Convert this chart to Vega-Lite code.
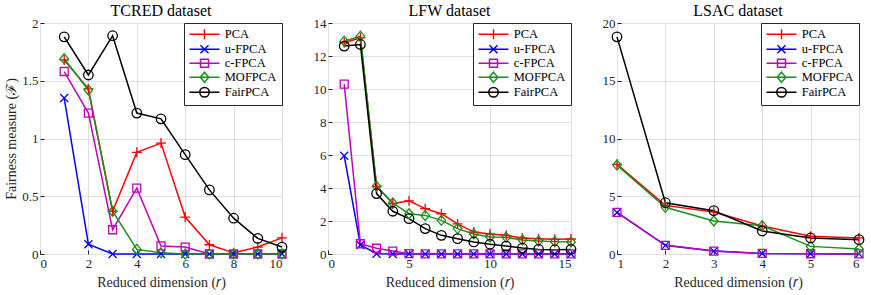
{
  "$schema": "https://vega.github.io/schema/vega-lite/v6.json",
  "padding": {"left": 4, "top": 2, "right": 8, "bottom": 2},
  "background": "white",
  "bounds": "flush",
  "spacing": 46,
  "config": {
    "font": "Liberation Serif",
    "view": {"stroke": "#262626", "strokeWidth": 1},
    "axis": {
      "labelFont": "Liberation Serif", "labelFontSize": 13, "labelColor": "#262626", "labelOverlap": false,
      "titleFont": "Liberation Serif", "titleFontSize": 14, "titleFontWeight": "normal", "titleColor": "#262626",
      "domain": false, "tickColor": "#262626", "tickSize": -4, "gridColor": "#dfdfdf", "gridWidth": 1, "tickCount": 20, "format": "~g"
    },
    "axisX": {"labelPadding": 7, "titlePadding": 5},
    "axisY": {"labelPadding": 6, "titlePadding": 3},
    "title": {"font": "Liberation Serif", "fontSize": 16, "fontWeight": "normal", "color": "black", "offset": -2, "frame": "group"},
    "legend": {
      "title": null, "orient": "top-right", "offset": 0, "padding": 5,
      "strokeColor": "#262626", "fillColor": "white", "cornerRadius": 0,
      "symbolSize": 100, "symbolStrokeWidth": 1.5, "symbolOffset": 9.25, "labelOffset": 14,
      "labelFont": "Liberation Serif", "labelFontSize": 12.5, "labelColor": "black", "rowPadding": -2
    }
  },
  "datasets": {
    "tcred": [
      {"r":1,"series":"PCA","F":1.68},{"r":2,"series":"PCA","F":1.43},{"r":3,"series":"PCA","F":0.37},{"r":4,"series":"PCA","F":0.88},{"r":5,"series":"PCA","F":0.96},{"r":6,"series":"PCA","F":0.32},{"r":7,"series":"PCA","F":0.08},{"r":8,"series":"PCA","F":0.01},{"r":9,"series":"PCA","F":0.06},{"r":10,"series":"PCA","F":0.14},
      {"r":1,"series":"u-FPCA","F":1.35},{"r":2,"series":"u-FPCA","F":0.085},{"r":3,"series":"u-FPCA","F":0.0},{"r":4,"series":"u-FPCA","F":0.0},{"r":5,"series":"u-FPCA","F":0.0},{"r":6,"series":"u-FPCA","F":0.0},{"r":7,"series":"u-FPCA","F":0.0},{"r":8,"series":"u-FPCA","F":0.0},{"r":9,"series":"u-FPCA","F":0.0},{"r":10,"series":"u-FPCA","F":0.0},
      {"r":1,"series":"c-FPCA","F":1.58},{"r":2,"series":"c-FPCA","F":1.22},{"r":3,"series":"c-FPCA","F":0.21},{"r":4,"series":"c-FPCA","F":0.57},{"r":5,"series":"c-FPCA","F":0.07},{"r":6,"series":"c-FPCA","F":0.06},{"r":7,"series":"c-FPCA","F":0.0},{"r":8,"series":"c-FPCA","F":0.0},{"r":9,"series":"c-FPCA","F":0.0},{"r":10,"series":"c-FPCA","F":0.0},
      {"r":1,"series":"MOFPCA","F":1.69},{"r":2,"series":"MOFPCA","F":1.42},{"r":3,"series":"MOFPCA","F":0.37},{"r":4,"series":"MOFPCA","F":0.04},{"r":5,"series":"MOFPCA","F":0.01},{"r":6,"series":"MOFPCA","F":0.0},{"r":7,"series":"MOFPCA","F":0.0},{"r":8,"series":"MOFPCA","F":0.0},{"r":9,"series":"MOFPCA","F":0.0},{"r":10,"series":"MOFPCA","F":0.0},
      {"r":1,"series":"FairPCA","F":1.88},{"r":2,"series":"FairPCA","F":1.55},{"r":3,"series":"FairPCA","F":1.89},{"r":4,"series":"FairPCA","F":1.22},{"r":5,"series":"FairPCA","F":1.17},{"r":6,"series":"FairPCA","F":0.86},{"r":7,"series":"FairPCA","F":0.555},{"r":8,"series":"FairPCA","F":0.31},{"r":9,"series":"FairPCA","F":0.135},{"r":10,"series":"FairPCA","F":0.06}
    ],
    "lfw": [
      {"r":1,"series":"PCA","F":12.8},{"r":2,"series":"PCA","F":13.1},{"r":3,"series":"PCA","F":4.1},{"r":4,"series":"PCA","F":3.05},{"r":5,"series":"PCA","F":3.22},{"r":6,"series":"PCA","F":2.75},{"r":7,"series":"PCA","F":2.44},{"r":8,"series":"PCA","F":1.82},{"r":9,"series":"PCA","F":1.33},{"r":10,"series":"PCA","F":1.21},{"r":11,"series":"PCA","F":1.13},{"r":12,"series":"PCA","F":0.97},{"r":13,"series":"PCA","F":0.93},{"r":14,"series":"PCA","F":0.89},{"r":15,"series":"PCA","F":0.91},
      {"r":1,"series":"u-FPCA","F":5.95},{"r":2,"series":"u-FPCA","F":0.55},{"r":3,"series":"u-FPCA","F":0.02},{"r":4,"series":"u-FPCA","F":0.0},{"r":5,"series":"u-FPCA","F":0.0},{"r":6,"series":"u-FPCA","F":0.0},{"r":7,"series":"u-FPCA","F":0.0},{"r":8,"series":"u-FPCA","F":0.0},{"r":9,"series":"u-FPCA","F":0.0},{"r":10,"series":"u-FPCA","F":0.0},{"r":11,"series":"u-FPCA","F":0.0},{"r":12,"series":"u-FPCA","F":0.0},{"r":13,"series":"u-FPCA","F":0.0},{"r":14,"series":"u-FPCA","F":0.0},{"r":15,"series":"u-FPCA","F":0.0},
      {"r":1,"series":"c-FPCA","F":10.3},{"r":2,"series":"c-FPCA","F":0.62},{"r":3,"series":"c-FPCA","F":0.35},{"r":4,"series":"c-FPCA","F":0.18},{"r":5,"series":"c-FPCA","F":0.02},{"r":6,"series":"c-FPCA","F":0.01},{"r":7,"series":"c-FPCA","F":0.01},{"r":8,"series":"c-FPCA","F":0.01},{"r":9,"series":"c-FPCA","F":0.01},{"r":10,"series":"c-FPCA","F":0.01},{"r":11,"series":"c-FPCA","F":0.01},{"r":12,"series":"c-FPCA","F":0.01},{"r":13,"series":"c-FPCA","F":0.01},{"r":14,"series":"c-FPCA","F":0.01},{"r":15,"series":"c-FPCA","F":0.01},
      {"r":1,"series":"MOFPCA","F":12.9},{"r":2,"series":"MOFPCA","F":13.2},{"r":3,"series":"MOFPCA","F":4.1},{"r":4,"series":"MOFPCA","F":3.09},{"r":5,"series":"MOFPCA","F":2.44},{"r":6,"series":"MOFPCA","F":2.34},{"r":7,"series":"MOFPCA","F":2.04},{"r":8,"series":"MOFPCA","F":1.54},{"r":9,"series":"MOFPCA","F":1.21},{"r":10,"series":"MOFPCA","F":1.03},{"r":11,"series":"MOFPCA","F":1.01},{"r":12,"series":"MOFPCA","F":0.85},{"r":13,"series":"MOFPCA","F":0.79},{"r":14,"series":"MOFPCA","F":0.75},{"r":15,"series":"MOFPCA","F":0.73},
      {"r":1,"series":"FairPCA","F":12.6},{"r":2,"series":"FairPCA","F":12.7},{"r":3,"series":"FairPCA","F":3.66},{"r":4,"series":"FairPCA","F":2.59},{"r":5,"series":"FairPCA","F":2.14},{"r":6,"series":"FairPCA","F":1.54},{"r":7,"series":"FairPCA","F":1.13},{"r":8,"series":"FairPCA","F":0.93},{"r":9,"series":"FairPCA","F":0.73},{"r":10,"series":"FairPCA","F":0.59},{"r":11,"series":"FairPCA","F":0.48},{"r":12,"series":"FairPCA","F":0.36},{"r":13,"series":"FairPCA","F":0.28},{"r":14,"series":"FairPCA","F":0.26},{"r":15,"series":"FairPCA","F":0.28}
    ],
    "lsac": [
      {"r":1,"series":"PCA","F":7.76},{"r":2,"series":"PCA","F":4.21},{"r":3,"series":"PCA","F":3.64},{"r":4,"series":"PCA","F":2.42},{"r":5,"series":"PCA","F":1.53},{"r":6,"series":"PCA","F":1.39},
      {"r":1,"series":"u-FPCA","F":3.6},{"r":2,"series":"u-FPCA","F":0.75},{"r":3,"series":"u-FPCA","F":0.25},{"r":4,"series":"u-FPCA","F":0.05},{"r":5,"series":"u-FPCA","F":0.02},{"r":6,"series":"u-FPCA","F":0.01},
      {"r":1,"series":"c-FPCA","F":3.6},{"r":2,"series":"c-FPCA","F":0.75},{"r":3,"series":"c-FPCA","F":0.25},{"r":4,"series":"c-FPCA","F":0.05},{"r":5,"series":"c-FPCA","F":0.02},{"r":6,"series":"c-FPCA","F":0.01},
      {"r":1,"series":"MOFPCA","F":7.7},{"r":2,"series":"MOFPCA","F":4.04},{"r":3,"series":"MOFPCA","F":2.86},{"r":4,"series":"MOFPCA","F":2.45},{"r":5,"series":"MOFPCA","F":0.66},{"r":6,"series":"MOFPCA","F":0.43},
      {"r":1,"series":"FairPCA","F":18.8},{"r":2,"series":"FairPCA","F":4.44},{"r":3,"series":"FairPCA","F":3.75},{"r":4,"series":"FairPCA","F":1.99},{"r":5,"series":"FairPCA","F":1.39},{"r":6,"series":"FairPCA","F":1.24}
    ]
  },
  "hconcat": [
    {
      "width": 242, "height": 231,
      "title": "TCRED dataset",
      "data": {"name": "tcred"},
      "resolve": {"scale": {"color": "independent", "shape": "independent"}},
      "layer": [
        {
          "mark": {"type": "line", "strokeWidth": 1.5},
          "encoding": {
            "x": {"field": "r", "type": "quantitative", "scale": {"domain": [0, 10], "nice": false}, "axis": {"values": [0,2,4,6,8,10], "tickCount": 20, "format": "~g", "title": "Reduced dimension (𝑟)"}},
            "y": {"field": "F", "type": "quantitative", "scale": {"domain": [0, 2], "nice": false}, "axis": {"values": [0,0.5,1,1.5,2], "tickCount": 20, "format": "~g", "title": "Fairness measure (ℱ)"}},
            "color": {"field": "series", "type": "nominal", "scale": {"domain": ["PCA","u-FPCA","c-FPCA","MOFPCA","FairPCA"], "range": ["#ff0000","#0000ff","#bf00bf","#1b8f1b","#000000"]}, "legend": null}
          }
        },
        {
          "mark": {"type": "point", "filled": false, "opacity": 1, "size": 100, "strokeWidth": 1.3},
          "encoding": {
            "x": {"field": "r", "type": "quantitative"},
            "y": {"field": "F", "type": "quantitative"},
            "color": {"field": "series", "type": "nominal", "scale": {"domain": ["PCA","u-FPCA","c-FPCA","MOFPCA","FairPCA"], "range": ["#ff0000","#0000ff","#bf00bf","#1b8f1b","#000000"]}, "legend": null},
            "shape": {"field": "series", "type": "nominal", "scale": {"domain": ["PCA","u-FPCA","c-FPCA","MOFPCA","FairPCA"], "range": ["M-1,0H1M0,-1V1","M-0.8,-0.8L0.8,0.8M-0.8,0.8L0.8,-0.8","M-0.8,-0.8H0.8V0.8H-0.8Z","M0,-1L0.85,0L0,1L-0.85,0Z","M0.95,0A0.95,0.95,0,1,1,-0.95,0A0.95,0.95,0,1,1,0.95,0"]}, "legend": null}
          }
        },
        {
          "transform": [{"filter": "datum.r < 0"}],
          "mark": {"type": "point", "filled": false, "opacity": 1, "strokeWidth": 1.5},
          "encoding": {
            "x": {"field": "r", "type": "quantitative"},
            "y": {"field": "F", "type": "quantitative"},
            "color": {"field": "series", "type": "nominal", "scale": {"domain": ["PCA","u-FPCA","c-FPCA","MOFPCA","FairPCA"], "range": ["#ff0000","#0000ff","#bf00bf","#1b8f1b","#000000"]}, "legend": {"title": null}},
            "shape": {"field": "series", "type": "nominal", "scale": {"domain": ["PCA","u-FPCA","c-FPCA","MOFPCA","FairPCA"], "range": ["M-3,0H3M0,-1V1","M-3,0H3M-0.8,-0.8L0.8,0.8M-0.8,0.8L0.8,-0.8","M-3,0H3M-0.8,-0.8H0.8V0.8H-0.8Z","M-3,0H3M0,-1L0.85,0L0,1L-0.85,0Z","M-3,0H3M0.95,0A0.95,0.95,0,1,1,-0.95,0A0.95,0.95,0,1,1,0.95,0"]}, "legend": {"title": null}}
          }
        }
      ]
    },
    {
      "width": 243, "height": 231,
      "title": "LFW dataset",
      "data": {"name": "lfw"},
      "resolve": {"scale": {"color": "independent", "shape": "independent"}},
      "layer": [
        {
          "mark": {"type": "line", "strokeWidth": 1.5},
          "encoding": {
            "x": {"field": "r", "type": "quantitative", "scale": {"domain": [0, 15], "nice": false}, "axis": {"values": [0,5,10,15], "tickCount": 20, "format": "~g", "title": "Reduced dimension (𝑟)"}},
            "y": {"field": "F", "type": "quantitative", "scale": {"domain": [0, 14], "nice": false}, "axis": {"values": [0,2,4,6,8,10,12,14], "tickCount": 20, "format": "~g", "title": null}},
            "color": {"field": "series", "type": "nominal", "scale": {"domain": ["PCA","u-FPCA","c-FPCA","MOFPCA","FairPCA"], "range": ["#ff0000","#0000ff","#bf00bf","#1b8f1b","#000000"]}, "legend": null}
          }
        },
        {
          "mark": {"type": "point", "filled": false, "opacity": 1, "size": 100, "strokeWidth": 1.3},
          "encoding": {
            "x": {"field": "r", "type": "quantitative"},
            "y": {"field": "F", "type": "quantitative"},
            "color": {"field": "series", "type": "nominal", "scale": {"domain": ["PCA","u-FPCA","c-FPCA","MOFPCA","FairPCA"], "range": ["#ff0000","#0000ff","#bf00bf","#1b8f1b","#000000"]}, "legend": null},
            "shape": {"field": "series", "type": "nominal", "scale": {"domain": ["PCA","u-FPCA","c-FPCA","MOFPCA","FairPCA"], "range": ["M-1,0H1M0,-1V1","M-0.8,-0.8L0.8,0.8M-0.8,0.8L0.8,-0.8","M-0.8,-0.8H0.8V0.8H-0.8Z","M0,-1L0.85,0L0,1L-0.85,0Z","M0.95,0A0.95,0.95,0,1,1,-0.95,0A0.95,0.95,0,1,1,0.95,0"]}, "legend": null}
          }
        },
        {
          "transform": [{"filter": "datum.r < 0"}],
          "mark": {"type": "point", "filled": false, "opacity": 1, "strokeWidth": 1.5},
          "encoding": {
            "x": {"field": "r", "type": "quantitative"},
            "y": {"field": "F", "type": "quantitative"},
            "color": {"field": "series", "type": "nominal", "scale": {"domain": ["PCA","u-FPCA","c-FPCA","MOFPCA","FairPCA"], "range": ["#ff0000","#0000ff","#bf00bf","#1b8f1b","#000000"]}, "legend": {"title": null}},
            "shape": {"field": "series", "type": "nominal", "scale": {"domain": ["PCA","u-FPCA","c-FPCA","MOFPCA","FairPCA"], "range": ["M-3,0H3M0,-1V1","M-3,0H3M-0.8,-0.8L0.8,0.8M-0.8,0.8L0.8,-0.8","M-3,0H3M-0.8,-0.8H0.8V0.8H-0.8Z","M-3,0H3M0,-1L0.85,0L0,1L-0.85,0Z","M-3,0H3M0.95,0A0.95,0.95,0,1,1,-0.95,0A0.95,0.95,0,1,1,0.95,0"]}, "legend": {"title": null}}
          }
        }
      ]
    },
    {
      "width": 242, "height": 231,
      "title": "LSAC dataset",
      "data": {"name": "lsac"},
      "resolve": {"scale": {"color": "independent", "shape": "independent"}},
      "layer": [
        {
          "mark": {"type": "line", "strokeWidth": 1.5},
          "encoding": {
            "x": {"field": "r", "type": "quantitative", "scale": {"domain": [1, 6], "nice": false}, "axis": {"values": [1,2,3,4,5,6], "tickCount": 20, "format": "~g", "title": "Reduced dimension (𝑟)"}},
            "y": {"field": "F", "type": "quantitative", "scale": {"domain": [0, 20], "nice": false}, "axis": {"values": [0,5,10,15,20], "tickCount": 20, "format": "~g", "title": null}},
            "color": {"field": "series", "type": "nominal", "scale": {"domain": ["PCA","u-FPCA","c-FPCA","MOFPCA","FairPCA"], "range": ["#ff0000","#0000ff","#bf00bf","#1b8f1b","#000000"]}, "legend": null}
          }
        },
        {
          "mark": {"type": "point", "filled": false, "opacity": 1, "size": 100, "strokeWidth": 1.3},
          "encoding": {
            "x": {"field": "r", "type": "quantitative"},
            "y": {"field": "F", "type": "quantitative"},
            "color": {"field": "series", "type": "nominal", "scale": {"domain": ["PCA","u-FPCA","c-FPCA","MOFPCA","FairPCA"], "range": ["#ff0000","#0000ff","#bf00bf","#1b8f1b","#000000"]}, "legend": null},
            "shape": {"field": "series", "type": "nominal", "scale": {"domain": ["PCA","u-FPCA","c-FPCA","MOFPCA","FairPCA"], "range": ["M-1,0H1M0,-1V1","M-0.8,-0.8L0.8,0.8M-0.8,0.8L0.8,-0.8","M-0.8,-0.8H0.8V0.8H-0.8Z","M0,-1L0.85,0L0,1L-0.85,0Z","M0.95,0A0.95,0.95,0,1,1,-0.95,0A0.95,0.95,0,1,1,0.95,0"]}, "legend": null}
          }
        },
        {
          "transform": [{"filter": "datum.r < 0"}],
          "mark": {"type": "point", "filled": false, "opacity": 1, "strokeWidth": 1.5},
          "encoding": {
            "x": {"field": "r", "type": "quantitative"},
            "y": {"field": "F", "type": "quantitative"},
            "color": {"field": "series", "type": "nominal", "scale": {"domain": ["PCA","u-FPCA","c-FPCA","MOFPCA","FairPCA"], "range": ["#ff0000","#0000ff","#bf00bf","#1b8f1b","#000000"]}, "legend": {"title": null}},
            "shape": {"field": "series", "type": "nominal", "scale": {"domain": ["PCA","u-FPCA","c-FPCA","MOFPCA","FairPCA"], "range": ["M-3,0H3M0,-1V1","M-3,0H3M-0.8,-0.8L0.8,0.8M-0.8,0.8L0.8,-0.8","M-3,0H3M-0.8,-0.8H0.8V0.8H-0.8Z","M-3,0H3M0,-1L0.85,0L0,1L-0.85,0Z","M-3,0H3M0.95,0A0.95,0.95,0,1,1,-0.95,0A0.95,0.95,0,1,1,0.95,0"]}, "legend": {"title": null}}
          }
        }
      ]
    }
  ]
}
